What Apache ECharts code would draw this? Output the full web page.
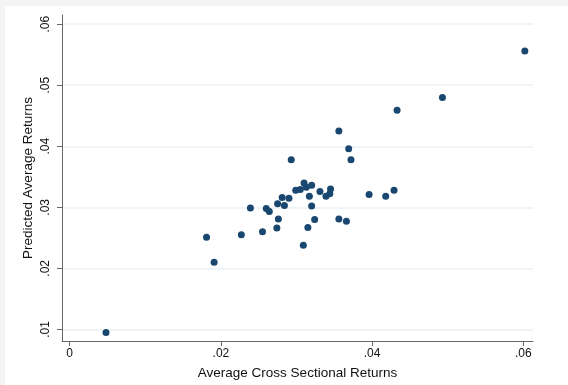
<!DOCTYPE html>
<html>
<head>
<meta charset="utf-8">
<script src="https://cdn.jsdelivr.net/npm/echarts@6/dist/echarts.min.js"></script>
<style>
html,body{margin:0;padding:0;background:#f4f4f4;}
#frame{position:absolute;left:5px;top:6px;width:563px;height:379px;background:#ffffff;}
#chart{position:absolute;left:0;top:0;width:568px;height:385px;}
</style>
</head>
<body>
<div id="frame"></div>
<div id="chart"></div>
<script>
// Average cross sectional returns (x) and predicted average returns (y)
const xValues = [0.0602, 0.0493, 0.0433, 0.0356, 0.0369, 0.0372, 0.0293, 0.0310, 0.0320, 0.0299,
                 0.0305, 0.0313, 0.0331, 0.0345, 0.0344, 0.0339, 0.0317, 0.0396, 0.0418, 0.0429,
                 0.0290, 0.0281, 0.0275, 0.0284, 0.0320, 0.0239, 0.0260, 0.0264, 0.0276, 0.0324,
                 0.0356, 0.0366, 0.0255, 0.0274, 0.0315, 0.0227, 0.0181, 0.0309, 0.0191, 0.0048];
const yValues = [0.0556, 0.0480, 0.0459, 0.0425, 0.0396, 0.0378, 0.0378, 0.0340, 0.0336, 0.0328,
                 0.0329, 0.0333, 0.0326, 0.0330, 0.0322, 0.0318, 0.0318, 0.0321, 0.0318, 0.0328,
                 0.0315, 0.0316, 0.0306, 0.0303, 0.0302, 0.0299, 0.0298, 0.0293, 0.0281, 0.0280,
                 0.0281, 0.0277, 0.0260, 0.0266, 0.0267, 0.0255, 0.0251, 0.0238, 0.0210, 0.0095];
const xTicks = [0, 0.02, 0.04, 0.06];
const xTickLabels = ['0', '.02', '.04', '.06'];
const yTicks = [0.01, 0.02, 0.03, 0.04, 0.05, 0.06];
const yTickLabels = ['.01', '.02', '.03', '.04', '.05', '.06'];

const points = xValues.map((x, i) => [x, yValues[i]]);
const fontFamily = '"Liberation Sans", Arial, Helvetica, sans-serif';

const chart = echarts.init(document.getElementById('chart'), null, {renderer: 'canvas'});
chart.setOption({
  animation: false,
  backgroundColor: 'transparent',
  grid: {left: 62, top: 15, right: 35, bottom: 43, containLabel: false},
  xAxis: {
    type: 'value',
    min: -0.00102,
    max: 0.06128,
    name: 'Average Cross Sectional Returns',
    nameLocation: 'middle',
    nameGap: 25,
    nameMoveOverlap: false,
    nameTextStyle: {color: '#111', fontSize: 13.5, fontFamily: fontFamily},
    axisLine: {show: true, onZero: false, lineStyle: {color: '#666', width: 1}},
    axisTick: {show: true, length: 5, customValues: xTicks, lineStyle: {color: '#666'}},
    axisLabel: {
      customValues: xTicks, margin: 7, color: '#111', fontSize: 12, fontFamily: fontFamily,
      formatter: v => xTickLabels[xTicks.findIndex(t => Math.abs(t - v) < 1e-9)]
    },
    splitLine: {show: false}
  },
  yAxis: {
    type: 'value',
    min: 0.0081,
    max: 0.0615,
    name: 'Predicted Average Returns',
    nameLocation: 'middle',
    nameGap: 27,
    nameMoveOverlap: false,
    nameRotate: 90,
    nameTextStyle: {color: '#111', fontSize: 13.5, fontFamily: fontFamily},
    axisLine: {show: true, onZero: false, lineStyle: {color: '#666', width: 1}},
    axisTick: {show: true, length: 5, customValues: yTicks, lineStyle: {color: '#666'}},
    axisLabel: {
      customValues: yTicks, rotate: 90, margin: 10, color: '#111', fontSize: 12, fontFamily: fontFamily,
      formatter: v => yTickLabels[yTicks.findIndex(t => Math.abs(t - v) < 1e-9)]
    },
    splitLine: {show: true, customValues: yTicks, lineStyle: {color: '#e8f0f4', width: 1.5}}
  },
  series: [{
    type: 'scatter',
    data: points,
    symbol: 'circle',
    symbolSize: 7,
    itemStyle: {color: '#1a476f', opacity: 1}
  }]
});
</script>
</body>
</html>
